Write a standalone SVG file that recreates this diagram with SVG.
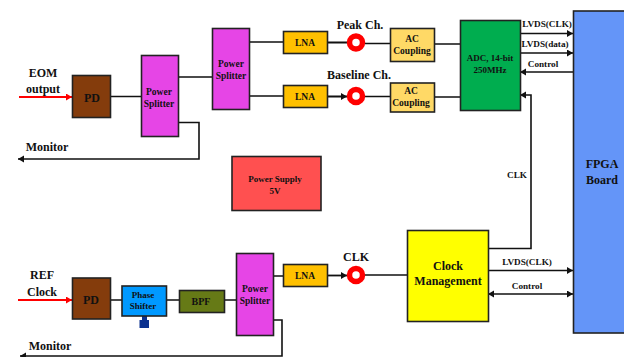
<svg xmlns="http://www.w3.org/2000/svg" width="624" height="357" viewBox="0 0 624 357">
<style>
text{font-family:"Liberation Serif","Times New Roman",serif;font-weight:bold;fill:#111;text-anchor:middle}
.b{stroke:#222;stroke-width:1.6}
.c{fill:none;stroke:#111;stroke-width:1.6}
.t{stroke-width:1.8}
.r{fill:none;stroke:#f00;stroke-width:2}
.o{fill:#fff;stroke:#f00;stroke-width:5.5}
.s{fill:#e645e6}.l{fill:#ffc000}.a{fill:#ffd966}.p{fill:#843c0c}
.f10{font-size:10px}.f95{font-size:9.500px}.f9{font-size:9px}.f12{font-size:12px}.f8{font-size:9.200px}
</style>
<defs>
<marker id="k" markerUnits="userSpaceOnUse" markerWidth="8" markerHeight="8" refX="6" refY="3.5" orient="auto-start-reverse"><path d="M0 0L6 3.5L0 7z" fill="#111"/></marker>
<marker id="q" markerUnits="userSpaceOnUse" markerWidth="8" markerHeight="8" refX="6" refY="3.5" orient="auto"><path d="M0 0L6 3.5L0 7z" fill="#f00"/></marker>
</defs>
<g id="connectors">
<path class="r" d="M19 97H72" marker-end="url(#q)"/>
<path class="r" d="M18 300H72" marker-end="url(#q)"/>
<path class="c" d="M110 96.500H141M178 77H212M249 42H283M249 96H283"/>
<path class="c" d="M178 122.500H199V159H18" marker-end="url(#k)"/>
<path class="c t" d="M328 42.500H347M328 96.500H347" marker-end="url(#k)"/>
<path class="c" d="M365 43.500H390M365 96.500H390M434 44H460M434 97H460"/>
<path class="c" d="M520 33.500H573" marker-end="url(#k)"/>
<path class="c" d="M520 53H573" marker-end="url(#k)"/>
<path class="c" d="M573 72H520" marker-end="url(#k)"/>
<path class="c" d="M488 248.500H531V95H520" marker-end="url(#k)"/>
<path class="c" d="M488 270.500H573" marker-end="url(#k)"/>
<path class="c" d="M488 294H573" marker-start="url(#k)" marker-end="url(#k)"/>
<path class="c" d="M110 300H122M166 300H179M224 300H236M273 276H283"/>
<path class="c t" d="M328 275.500H347" marker-end="url(#k)"/>
<path class="c" d="M365 275H407"/>
<path class="c" d="M273 320H282V356H20" marker-end="url(#k)"/>
</g>
<text class="f12" x="43" y="77">EOM</text><text class="f12" x="43" y="93">output</text>
<text class="f12" x="47" y="151">Monitor</text>
<text class="f12" x="42" y="279">REF</text><text class="f12" x="42" y="296">Clock</text>
<text class="f12" x="50" y="350">Monitor</text>
<g id="pd1"><rect class="b p" x="72.500" y="75.500" width="38" height="42"/><text class="f12" x="92" y="102">PD</text></g>
<g id="splitter1"><rect class="b s" x="141.500" y="55.500" width="37" height="81"/><text class="f95" x="159" y="95">Power</text><text class="f95" x="159" y="107">Splitter</text></g>
<g id="splitter2"><rect class="b s" x="212.500" y="28.500" width="37" height="81"/><text class="f95" x="231" y="67">Power</text><text class="f95" x="231" y="79">Splitter</text></g>
<g id="lna1"><rect class="b l" x="283.500" y="31.500" width="44" height="22"/><text class="f95" x="305" y="46">LNA</text></g>
<g id="lna2"><rect class="b l" x="283.500" y="85.500" width="44" height="22"/><text class="f95" x="305" y="100">LNA</text></g>
<g id="peak"><circle class="o" cx="356" cy="42.500" r="6.500"/><text class="f12" x="360" y="29">Peak Ch.</text></g>
<g id="baseline"><circle class="o" cx="356" cy="96" r="6.500"/><text class="f12" x="359" y="79">Baseline Ch.</text></g>
<g id="ac1"><rect class="b a" x="390.500" y="28.500" width="44" height="33"/><text class="f95" x="412" y="42">AC</text><text class="f95" x="412" y="54">Coupling</text></g>
<g id="ac2"><rect class="b a" x="390.500" y="83" width="44" height="29"/><text class="f95" x="411" y="94">AC</text><text class="f95" x="411" y="106">Coupling</text></g>
<g id="adc"><rect class="b" fill="#00ad4f" x="460.500" y="20.500" width="60" height="90"/><text class="f9" x="490" y="61">ADC, 14-bit</text><text class="f9" x="490" y="73">250MHz</text></g>
<g id="fpga"><rect class="b" fill="#6495f8" x="573.500" y="11" width="52" height="322"/><text class="f12" x="602" y="168">FPGA</text><text class="f12" x="602" y="184">Board</text></g>
<text class="f8" x="547" y="27">LVDS(CLK)</text><text class="f8" x="545" y="47">LVDS(data)</text><text class="f8" x="543" y="67">Control</text>
<text class="f8" x="517" y="178">CLK</text>
<text class="f8" x="527" y="265">LVDS(CLK)</text><text class="f8" x="527" y="289">Control</text>
<g id="power"><rect class="b" fill="#ff5050" x="232" y="156.500" width="89" height="54"/><text class="f9" x="275" y="182">Power Supply</text><text class="f9" x="275" y="194">5V</text></g>
<g id="clockmgmt"><rect class="b" fill="#ff0" x="407.500" y="230.500" width="81" height="91"/><text class="f12" x="448" y="270">Clock</text><text class="f12" x="448" y="285">Management</text></g>
<g id="clk"><circle class="o" cx="356" cy="275" r="6.500"/><text class="f12" x="356" y="261">CLK</text></g>
<g id="lna3"><rect class="b l" x="283.500" y="264.500" width="44" height="22"/><text class="f95" x="305" y="279">LNA</text></g>
<g id="splitter3"><rect class="b s" x="236.500" y="253.500" width="37" height="82"/><text class="f95" x="255" y="292">Power</text><text class="f95" x="255" y="304">Splitter</text></g>
<g id="bpf"><rect class="b" fill="#667a16" x="179.500" y="290.500" width="45" height="22"/><text class="f10" x="201" y="305">BPF</text></g>
<g id="phase"><path fill="#0b318f" d="M139.500 328V320H142V316H147V320H149V328z"/><rect class="b" fill="#0099ff" x="122" y="286" width="44.500" height="30"/><text class="f9" x="143" y="298">Phase</text><text class="f9" x="143" y="309">Shifter</text></g>
<g id="pd2"><rect class="b p" x="72.500" y="278" width="38" height="41"/><text class="f12" x="91" y="304">PD</text></g>
</svg>
